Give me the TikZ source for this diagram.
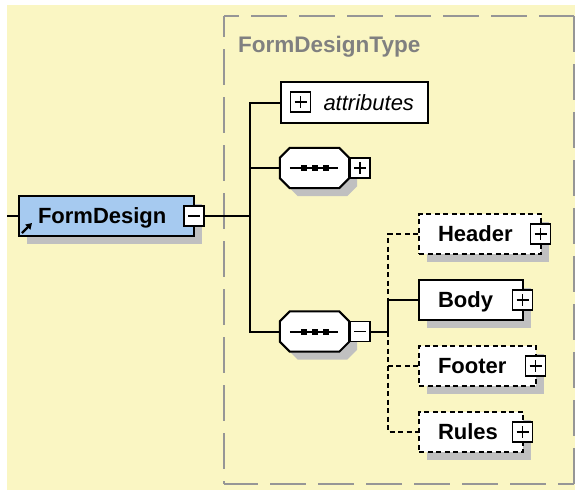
\documentclass[tikz,border=0pt]{standalone}
\usepackage{fontspec}
\setmainfont{Liberation Sans}
\usetikzlibrary{shadows,calc,arrows.meta}
\definecolor{bgyellow}{RGB}{250,246,195}
\definecolor{framegray}{RGB}{150,150,150}
\definecolor{titlegray}{RGB}{128,128,128}
\definecolor{selblue}{RGB}{166,202,240}
\definecolor{shadowgray}{RGB}{192,192,192}
\tikzset{
  conn/.style={line width=2pt, black},
  optconn/.style={conn, dash pattern=on 5pt off 3.5pt},
  framel/.style={line width=2pt, framegray, dash pattern=on 36pt off 12pt},
  elem/.style={draw, fill=white, line width=2pt, minimum height=40pt,
    inner xsep=19pt, inner ysep=0pt, text height=17pt, text depth=1.2pt,
    align=left, font=\fontsize{22}{26}\selectfont\bfseries, anchor=west,
    general shadow={fill=shadowgray, shadow xshift=8pt, shadow yshift=-8pt}},
  optelem/.style={elem, dash pattern=on 5pt off 3.5pt},
  pmbox/.style={draw, fill=white, line width=1.8pt, minimum size=20pt, inner sep=0pt},
  minusbox/.style={pmbox, path picture={\draw[line width=1.8pt]
      ([xshift=4pt]path picture bounding box.west) -- ([xshift=-4pt]path picture bounding box.east);}},
  plusbox/.style={pmbox, path picture={\draw[line width=1.8pt]
      ([xshift=4pt]path picture bounding box.west) -- ([xshift=-4pt]path picture bounding box.east)
      ([yshift=-4pt]path picture bounding box.north) -- ([yshift=4pt]path picture bounding box.south);}},
  seqbox/.style={minimum width=69pt, minimum height=40pt, inner sep=0pt}
}
\newcommand\octpath[1]{([xshift=10pt]#1.north west) -- ([xshift=-10pt]#1.north east)
  -- ([yshift=-10pt]#1.north east) -- ([yshift=10pt]#1.south east)
  -- ([xshift=-10pt]#1.south east) -- ([xshift=10pt]#1.south west)
  -- ([yshift=10pt]#1.south west) -- ([yshift=-10pt]#1.north west) -- cycle}
\newcommand\seqdraw[1]{%
  \fill[shadowgray, transform canvas={shift={(8pt,-8pt)}}] \octpath{#1};
  \filldraw[fill=white, draw=black, line width=2pt] \octpath{#1};
  \draw[line width=2pt] ([xshift=10pt]#1.west) -- ([xshift=-11pt]#1.east);
  \foreach \dx in {-11,0,11}
    \fill ([shift={(\dx pt-3pt,-3pt)}]#1.center) rectangle ([shift={(\dx pt+3pt,3pt)}]#1.center);
}
\begin{document}
\begin{tikzpicture}[x=1pt,y=-1pt]
\useasboundingbox (0,0) rectangle (575,491);
\fill[white] (0,0) rectangle (575,491);
\fill[bgyellow] (7,5) rectangle (575,490);

% dashed type frame
\draw[framel, dash phase=21pt] (224,16) -- (574,16);
\draw[framel, dash phase=15pt] (224,16) -- (224,484);
\draw[framel, dash phase=2pt] (224,484) -- (574,484);
\draw[framel] (574,16) -- (574,484);
\node[anchor=base west, inner sep=0pt, text=titlegray,
  font=\fontsize{22.5}{26}\selectfont\bfseries] (title) at (238,52) {FormDesignType};

% root element
\node[elem, fill=selblue, text width=137pt] (fd) at (18,216) {FormDesign};
\draw[line width=2.2pt, -{Triangle[length=6pt,width=7pt]}]
  ([shift={(4pt,4pt)}]fd.south west) -- ([shift={(14pt,14pt)}]fd.south west);
\node[minusbox] (fdm) at ([xshift=-1pt]fd.east) {};

% attributes
\node[draw, fill=white, line width=2pt, anchor=west, minimum height=41pt,
  inner xsep=14pt, inner ysep=0pt, text width=119pt, align=right,
  text height=17pt, text depth=1.2pt,
  font=\fontsize{22}{26}\selectfont\itshape] (attr) at (280,102.5) {attributes};
\node[plusbox] (attrp) at (300.5,102) {};

% sequences
\node[seqbox] (seq1) at (314.5,168) {};
\seqdraw{seq1}
\node[plusbox, anchor=west] (seq1p) at (seq1.east) {};
\node[seqbox] (seq2) at (314.5,331.5) {};
\seqdraw{seq2}
\node[minusbox, anchor=west] (seq2m) at (seq2.east) {};

% child elements
\node[optelem, text width=84pt] (header) at (418,234) {Header};
\node[plusbox] (headerp) at ([xshift=-1.5pt]header.east) {};
\node[elem, text width=66pt] (body) at (418,300) {Body};
\node[plusbox] (bodyp) at ([xshift=-1.5pt]body.east) {};
\node[optelem, text width=79pt] (footer) at (418,366) {Footer};
\node[plusbox] (footerp) at ([xshift=-1.5pt]footer.east) {};
\node[optelem, text width=66pt] (rules) at (418,432) {Rules};
\node[plusbox] (rulesp) at ([xshift=-1.5pt]rules.east) {};

% connectors
\coordinate (in) at (7,216);
\coordinate (trunk) at (250,216);
\draw[conn] (in) -- (fd.west);
\draw[conn] (fdm.east) -- (trunk);
\draw[conn] (attr.west) -| (trunk);
\draw[conn] (seq2.west) -| (trunk);
\draw[conn] (seq1.west) -- (seq1.west -| trunk);

\coordinate (sub) at (388,331.5);
\draw[conn] (seq2m.east) -- (sub);
\draw[conn] (sub) |- (body.west);
\draw[optconn] (header.west) -| (body.west -| sub);
\draw[optconn] (sub) |- (rules.west);
\draw[optconn] (footer.west) -- (footer.west -| sub);
\end{tikzpicture}
\end{document}
